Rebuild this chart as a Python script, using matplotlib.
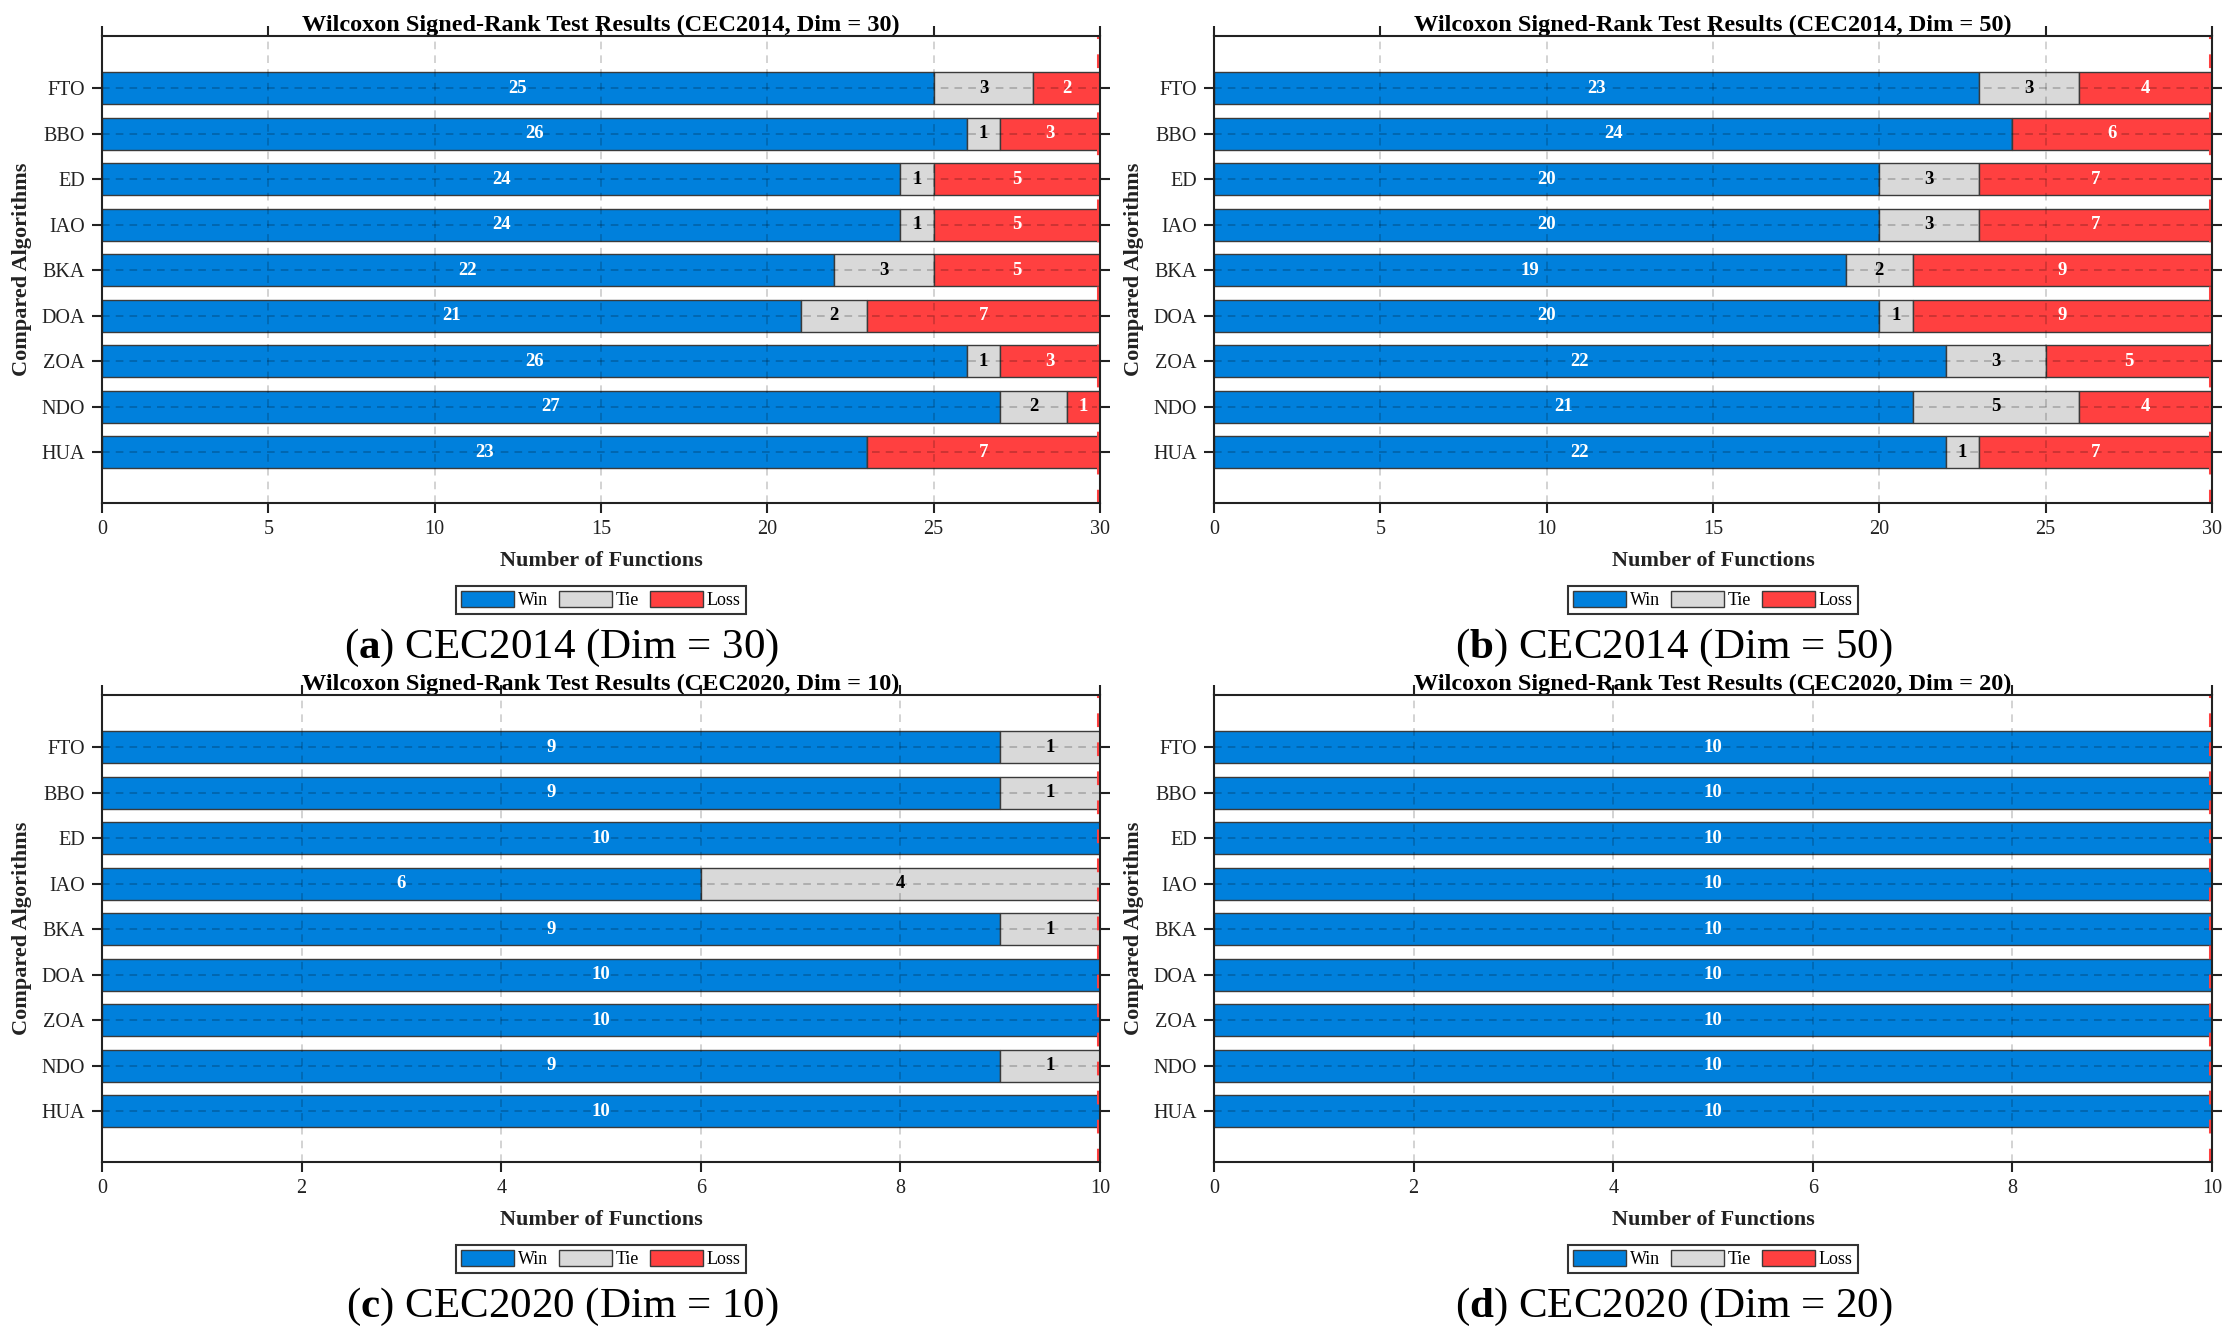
import matplotlib
matplotlib.use("Agg")
import matplotlib.pyplot as plt
import matplotlib.transforms as mtransforms
import numpy as np

plt.rcParams['font.family'] = ['Liberation Serif', 'DejaVu Serif']
plt.rcParams['mathtext.fontset'] = 'custom'
plt.rcParams['mathtext.rm'] = 'Liberation Serif'
plt.rcParams['mathtext.bf'] = 'Liberation Serif:bold'

# ---------------- data ----------------
algorithms = ["FTO", "BBO", "ED", "IAO", "BKA", "DOA", "ZOA", "NDO", "HUA"]

titles = [
    "Wilcoxon Signed-Rank Test Results (CEC2014, Dim = 30)",
    "Wilcoxon Signed-Rank Test Results (CEC2014, Dim = 50)",
    "Wilcoxon Signed-Rank Test Results (CEC2020, Dim = 10)",
    "Wilcoxon Signed-Rank Test Results (CEC2020, Dim = 20)",
]
captions = [
    ("a", "CEC2014 (Dim = 30)"),
    ("b", "CEC2014 (Dim = 50)"),
    ("c", "CEC2020 (Dim = 10)"),
    ("d", "CEC2020 (Dim = 20)"),
]

win_a = [25, 26, 24, 24, 22, 21, 26, 27, 23]
tie_a = [3, 1, 1, 1, 3, 2, 1, 2, 0]
loss_a = [2, 3, 5, 5, 5, 7, 3, 1, 7]

win_b = [23, 24, 20, 20, 19, 20, 22, 21, 22]
tie_b = [3, 0, 3, 3, 2, 1, 3, 5, 1]
loss_b = [4, 6, 7, 7, 9, 9, 5, 4, 7]

win_c = [9, 9, 10, 6, 9, 10, 10, 9, 10]
tie_c = [1, 1, 0, 4, 1, 0, 0, 1, 0]
loss_c = [0, 0, 0, 0, 0, 0, 0, 0, 0]

win_d = [10, 10, 10, 10, 10, 10, 10, 10, 10]
tie_d = [0, 0, 0, 0, 0, 0, 0, 0, 0]
loss_d = [0, 0, 0, 0, 0, 0, 0, 0, 0]

totals = [30, 30, 10, 10]
xticks_list = [np.arange(0, 31, 5), np.arange(0, 31, 5), np.arange(0, 11, 2), np.arange(0, 11, 2)]
series_labels = ["Win", "Tie", "Loss"]

panels = [(win_a, tie_a, loss_a), (win_b, tie_b, loss_b),
          (win_c, tie_c, loss_c), (win_d, tie_d, loss_d)]

# ---------------- style ----------------
C_WIN = "#0080DC"
C_TIE = "#D9D9D9"
C_LOSS = "#FF4040"
EDGE = "#3a3a3a"

W, H = 2236, 1341
fig = plt.figure(figsize=(W / 100, H / 100), dpi=100)

lefts = [102, 1214, 102, 1214]
tops = [36, 36, 695, 695]
ax_w, ax_h = 998, 467
cap_x = [562, 1674, 562, 1674]

for i, (win, tie, loss) in enumerate(panels):
    l, t = lefts[i], tops[i]
    ax = fig.add_axes([l / W, 1 - (t + ax_h) / H, ax_w / W, ax_h / H])
    n = len(algorithms)
    y = np.arange(n, 0, -1)  # FTO on top
    win = np.array(win); tie = np.array(tie); loss = np.array(loss)
    h = 0.7
    b1 = ax.barh(y, win, height=h, color=C_WIN, edgecolor=EDGE, linewidth=1.0, zorder=3, label="Win")
    b2 = ax.barh(y, tie, left=win, height=h, color=C_TIE, edgecolor=EDGE, linewidth=1.0, zorder=3, label="Tie")
    b3 = ax.barh(y, loss, left=win + tie, height=h, color=C_LOSS, edgecolor=EDGE, linewidth=1.0, zorder=3, label="Loss")

    for yy, w_, t_, l_ in zip(y, win, tie, loss):
        if w_ > 0:
            ax.text(w_ / 2, yy, str(w_), color="white", fontweight="bold", fontsize=13.5,
                    ha="center", va="center", zorder=6)
        if t_ > 0:
            ax.text(w_ + t_ / 2, yy, str(t_), color="black", fontweight="bold", fontsize=13.5,
                    ha="center", va="center", zorder=6)
        if l_ > 0:
            ax.text(w_ + t_ + l_ / 2, yy, str(l_), color="white", fontweight="bold", fontsize=13.5,
                    ha="center", va="center", zorder=6)

    xmax = totals[i]
    ax.set_xlim(0, xmax)
    ylo, yhi = 1 - 1.12, n + 1.15
    ax.set_ylim(ylo, yhi)
    ax.set_xticks(xticks_list[i])
    ax.set_yticks(y)
    ax.set_yticklabels(algorithms)

    # grid on top of bars (dashed, translucent)
    for xv in xticks_list[i]:
        if 0 < xv < xmax:
            ax.axvline(xv, color="black", alpha=0.22, lw=1.1, ls=(0, (5, 4)), zorder=4)
    for yy in y:
        ax.axhline(yy, color="black", alpha=0.25, lw=1.1, ls=(0, (5, 4)), zorder=4)

    # red dashed line just inside the right edge at the total
    tr = mtransforms.offset_copy(ax.transData, fig=fig, x=-2.5, y=0, units="dots")
    ax.plot([xmax, xmax], [ylo, yhi], color=C_LOSS, lw=2.2, ls=(0, (4.5, 5)),
            transform=tr, zorder=4.5, clip_on=False)

    for sp in ax.spines.values():
        sp.set_linewidth(1.5)
        sp.set_color("#222222")
        sp.set_zorder(5)
    ax.tick_params(axis="both", which="both", direction="out", length=7, width=1.5,
                   labelsize=14.5, colors="#222222", top=True, right=True)
    ax.tick_params(axis="x", pad=5)
    ax.tick_params(axis="y", pad=5.5)

    ax.set_title(titles[i], fontsize=17.5, fontweight="bold", pad=3)
    ax.set_xlabel("Number of Functions", fontsize=16, fontweight="bold", color="#222222")
    ax.xaxis.label.set_va("center")
    ax.xaxis.set_label_coords(0.5, -58 / ax_h)
    ax.set_ylabel("Compared Algorithms", fontsize=16, fontweight="bold", color="#222222")
    ax.yaxis.label.set_va("center")
    ax.yaxis.set_label_coords(-80 / ax_w, 0.5)

    # legend below
    leg_y = (t + ax_h) + 97
    leg = fig.legend([b1, b2, b3], series_labels, loc="center",
                     bbox_to_anchor=((l + ax_w / 2) / W, 1 - leg_y / H),
                     ncol=3, fontsize=13, frameon=True, fancybox=False,
                     edgecolor="black", handlelength=2.95, handleheight=0.95,
                     handletextpad=0.2, columnspacing=0.6, borderpad=0.3)
    leg.get_frame().set_linewidth(1.5)

    # caption
    letter, rest = captions[i]
    base_y = (t + ax_h) + 155
    fig.text(cap_x[i] / W, 1 - base_y / H, "(" + r"$\mathbf{" + letter + "}$" + ") " + rest,
             fontsize=31, ha="center", va="baseline", color="black")

fig.savefig("out.png", dpi=100)
